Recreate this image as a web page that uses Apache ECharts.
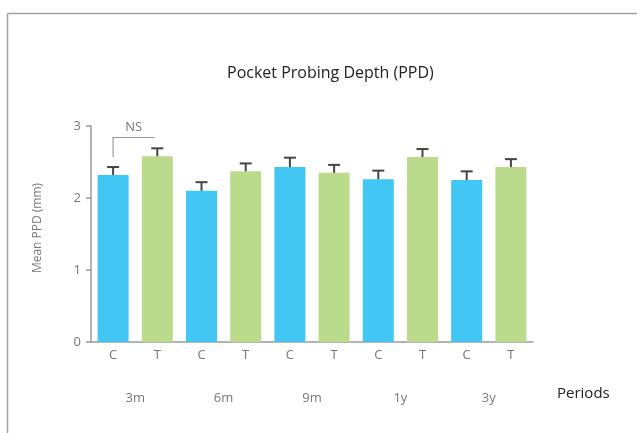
<!DOCTYPE html>
<html>
<head>
<meta charset="utf-8">
<script src="https://cdn.jsdelivr.net/npm/echarts@6/dist/echarts.min.js"></script>
<style>
  html, body { margin: 0; padding: 0; background: #fff; }
  #chart { width: 637px; height: 433px; }
</style>
</head>
<body>
<div id="chart"></div>
<script>
// Study periods and groups (C = control, T = test)
const periods = ['3m', '6m', '9m', '1y', '3y'];
const groups = ['C', 'T'];
// Mean PPD (mm) per period
const ctrlMean = [2.32, 2.10, 2.43, 2.26, 2.25];
const testMean = [2.58, 2.37, 2.35, 2.57, 2.43];
// Upper error (SD / SE) added on top of each mean
const ctrlErr = [0.11, 0.12, 0.13, 0.12, 0.12];
const testErr = [0.11, 0.11, 0.11, 0.11, 0.11];
const yTicks = [0, 1, 2, 3];

const FONT = 'Open Sans';
const BLUE = '#42c6f3';
const GREEN = '#badb8b';

// Interleave C/T per period into one category axis
const categories = [];
const barData = [];
const errData = [];
periods.forEach((p, i) => {
  categories.push(groups[0], groups[1]);
  barData.push({ value: ctrlMean[i], itemStyle: { color: BLUE } });
  barData.push({ value: testMean[i], itemStyle: { color: GREEN } });
  errData.push([2 * i, ctrlMean[i], ctrlMean[i] + ctrlErr[i]]);
  errData.push([2 * i + 1, testMean[i], testMean[i] + testErr[i]]);
});

const chart = echarts.init(document.getElementById('chart'));
chart.setOption({
  animation: false,
  title: {
    text: 'Pocket Probing Depth (PPD)',
    left: 222,
    top: 60,
    textStyle: { fontFamily: FONT, fontSize: 16, fontWeight: 'normal', color: '#222' }
  },
  graphic: [
    { type: 'line', shape: { x1: 7.5, y1: 13.5, x2: 637, y2: 13.5 }, style: { stroke: '#a0a0a0', lineWidth: 1.5 } },
    { type: 'line', shape: { x1: 7.5, y1: 13.5, x2: 7.5, y2: 433 }, style: { stroke: '#a0a0a0', lineWidth: 1.5 } },
    {
      type: 'text',
      x: 38, y: 228, rotation: Math.PI / 2,
      style: {
        text: 'Mean PPD (mm)', align: 'center', verticalAlign: 'middle',
        fill: '#777', font: '12px "Open Sans"'
      }
    }
  ],
  grid: { left: 91, right: 104, top: 126, bottom: 91, containLabel: false },
  xAxis: [
    {
      type: 'category',
      data: categories,
      axisLine: { lineStyle: { color: '#9a9a9a', width: 1.5 } },
      axisTick: { alignWithLabel: true, length: 5, lineStyle: { color: '#9a9a9a', width: 1.5 } },
      axisLabel: { color: '#777', fontFamily: FONT, fontSize: 13, margin: 7 }
    },
    {
      type: 'category',
      data: periods,
      position: 'bottom',
      offset: 42,
      axisLine: { show: false },
      axisTick: { show: false },
      axisLabel: { color: '#777', fontFamily: FONT, fontSize: 13 },
      name: 'Periods',
      nameLocation: 'end',
      nameGap: 24,
      nameTextStyle: { color: '#222', fontFamily: FONT, fontSize: 15, verticalAlign: 'top', padding: [2, 0, 0, 0] }
    }
  ],
  yAxis: {
    type: 'value',
    min: yTicks[0],
    max: yTicks[yTicks.length - 1],
    interval: 1,
    axisLine: { show: true, lineStyle: { color: '#9a9a9a', width: 1.5 } },
    axisTick: { show: true, length: 5, lineStyle: { color: '#9a9a9a', width: 1.5 } },
    axisLabel: { color: '#777', fontFamily: FONT, fontSize: 13, margin: 10 },
    splitLine: { show: false }
  },
  series: [
    {
      type: 'bar',
      data: barData,
      barWidth: 31,
      xAxisIndex: 0
    },
    {
      // upper error whiskers with caps
      type: 'custom',
      xAxisIndex: 0,
      data: errData,
      z: 5,
      renderItem: function (params, api) {
        const base = api.coord([api.value(0), api.value(1)]);
        const top = api.coord([api.value(0), api.value(2)]);
        const half = 6;
        const style = { stroke: '#444', lineWidth: 2 };
        return {
          type: 'group',
          children: [
            { type: 'line', shape: { x1: base[0], y1: base[1], x2: top[0], y2: top[1] }, style },
            { type: 'line', shape: { x1: top[0] - half, y1: top[1], x2: top[0] + half, y2: top[1] }, style }
          ]
        };
      }
    },
    {
      // NS bracket between 3m C and 3m T
      type: 'custom',
      xAxisIndex: 0,
      data: [[0, 1, 2.57, 2.84]],
      z: 5,
      renderItem: function (params, api) {
        const a = api.coord([api.value(0), api.value(2)]);
        const b = api.coord([api.value(1), api.value(3)]);
        const yTop = b[1];
        const xEnd = b[0] - 3;
        const style = { stroke: '#999', lineWidth: 1.2, fill: null };
        return {
          type: 'group',
          children: [
            { type: 'polyline', shape: { points: [[a[0], a[1]], [a[0], yTop], [xEnd, yTop]] }, style },
            {
              type: 'text',
              style: {
                text: 'NS', x: (a[0] + xEnd) / 2, y: yTop - 4,
                align: 'center', verticalAlign: 'bottom',
                fill: '#777', font: '13px "Open Sans"'
              }
            }
          ]
        };
      }
    }
  ]
});
</script>
</body>
</html>
